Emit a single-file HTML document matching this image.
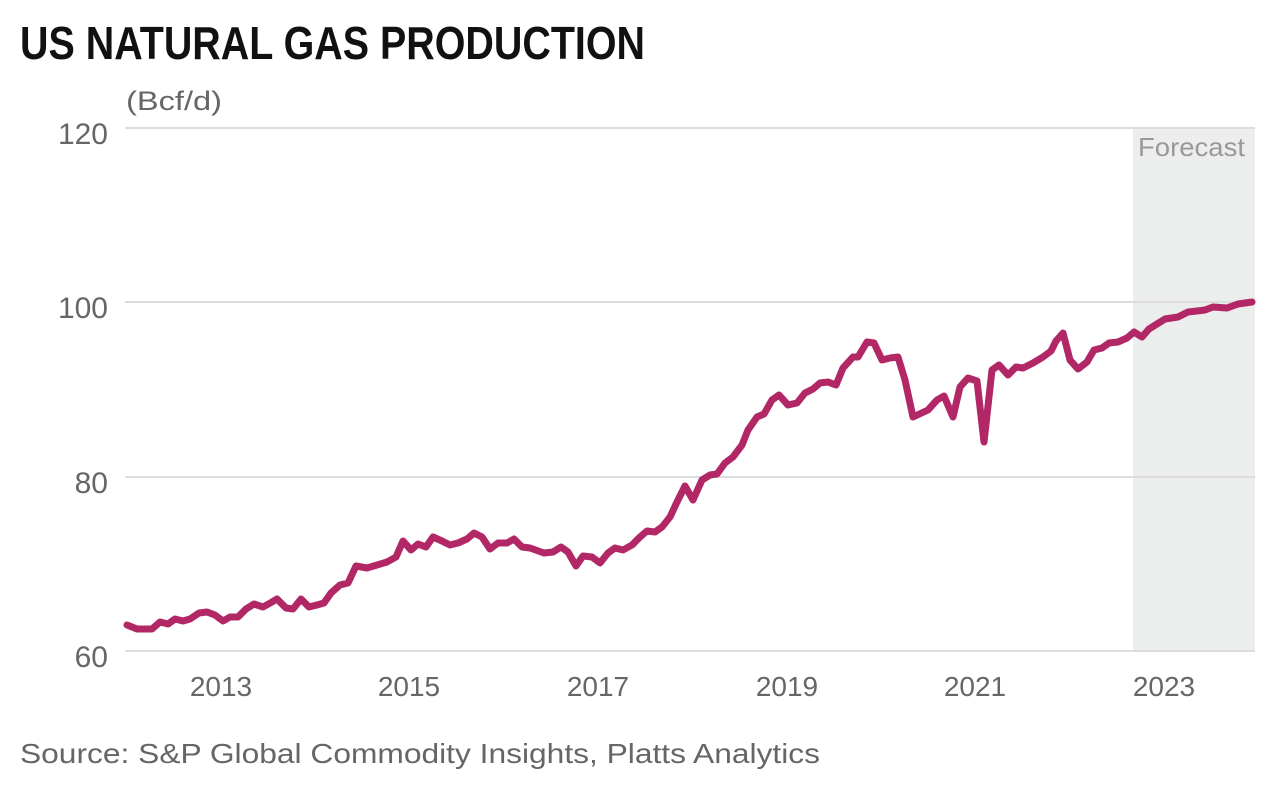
<!DOCTYPE html>
<html><head><meta charset="utf-8"><style>
html,body{margin:0;padding:0;background:#fff;}
svg{display:block;font-family:"Liberation Sans",sans-serif;}
</style></head><body>
<svg width="1280" height="786" viewBox="0 0 1280 786" xmlns="http://www.w3.org/2000/svg">
<rect x="1133" y="128" width="122" height="523" fill="#eceded"/>
<g stroke="#dcdcdc" stroke-width="2">
<line x1="125" y1="128" x2="1255" y2="128"/>
<line x1="125" y1="302" x2="1255" y2="302"/>
<line x1="125" y1="477" x2="1255" y2="477"/>
<line x1="125" y1="651" x2="1255" y2="651"/>
</g>
<text x="20" y="59" font-size="46" font-weight="bold" fill="#111" textLength="625" lengthAdjust="spacingAndGlyphs">US NATURAL GAS PRODUCTION</text>
<text x="126" y="110" font-size="27" fill="#666" textLength="96" lengthAdjust="spacingAndGlyphs">(Bcf/d)</text>
<g font-size="30" fill="#666" text-anchor="end">
<text x="108" y="144">120</text>
<text x="108" y="318">100</text>
<text x="108" y="493">80</text>
<text x="108" y="667">60</text>
</g>
<g font-size="28" fill="#666" text-anchor="middle">
<text x="221" y="696">2013</text>
<text x="409" y="696">2015</text>
<text x="598" y="696">2017</text>
<text x="787" y="696">2019</text>
<text x="975" y="696">2021</text>
<text x="1164" y="696">2023</text>
</g>
<text x="1138" y="156" font-size="26" fill="#999" textLength="107" lengthAdjust="spacingAndGlyphs">Forecast</text>
<polyline fill="none" stroke="#b22766" stroke-width="7" stroke-linejoin="round" stroke-linecap="round" points="
127,625 137,629 152,629 160,622 168,624 175,619 183,621 190,619 199,613 207,612 215,615 223,621 230,617 238,617 246,609 254,604 263,607 272,602 277,599 286,608 293,609 301,599 309,607 317,605 324,603 331,593 340,585 348,583 356,566 367,568 377,565 387,562 396,557 403,541 411,550 418,544 426,547 433,537 442,541 450,545 458,543 467,539 474,533 482,537 490,549 498,543 507,543 514,539 522,547 530,548 544,553 553,552 561,547 568,552 576,566 583,556 592,557 600,563 608,553 615,548 623,550 632,545 640,537 647,531 655,532 662,527 670,517 677,502 685,486 693,500 702,480 710,475 717,474 725,463 733,457 742,445 748,430 757,417 764,414 772,400 779,395 788,405 797,403 805,393 813,389 820,383 828,382 836,385 843,368 853,357 858,357 867,342 874,343 882,360 890,358 898,357 905,380 913,417 928,410 937,400 944,396 953,417 960,387 968,378 977,381 984,442 992,370 999,365 1008,375 1016,367 1023,368 1033,363 1043,357 1051,351 1056,341 1063,333 1070,360 1078,369 1087,362 1094,350 1102,348 1109,343 1118,342 1127,338 1134,332 1142,337 1149,329 1157,324 1165,319 1178,317 1188,312 1197,311 1205,310 1213,307 1227,308 1238,304 1252,302"/>
<text x="20" y="763" font-size="28" fill="#666" textLength="800" lengthAdjust="spacingAndGlyphs">Source: S&amp;P Global Commodity Insights, Platts Analytics</text>
</svg>
</body></html>
